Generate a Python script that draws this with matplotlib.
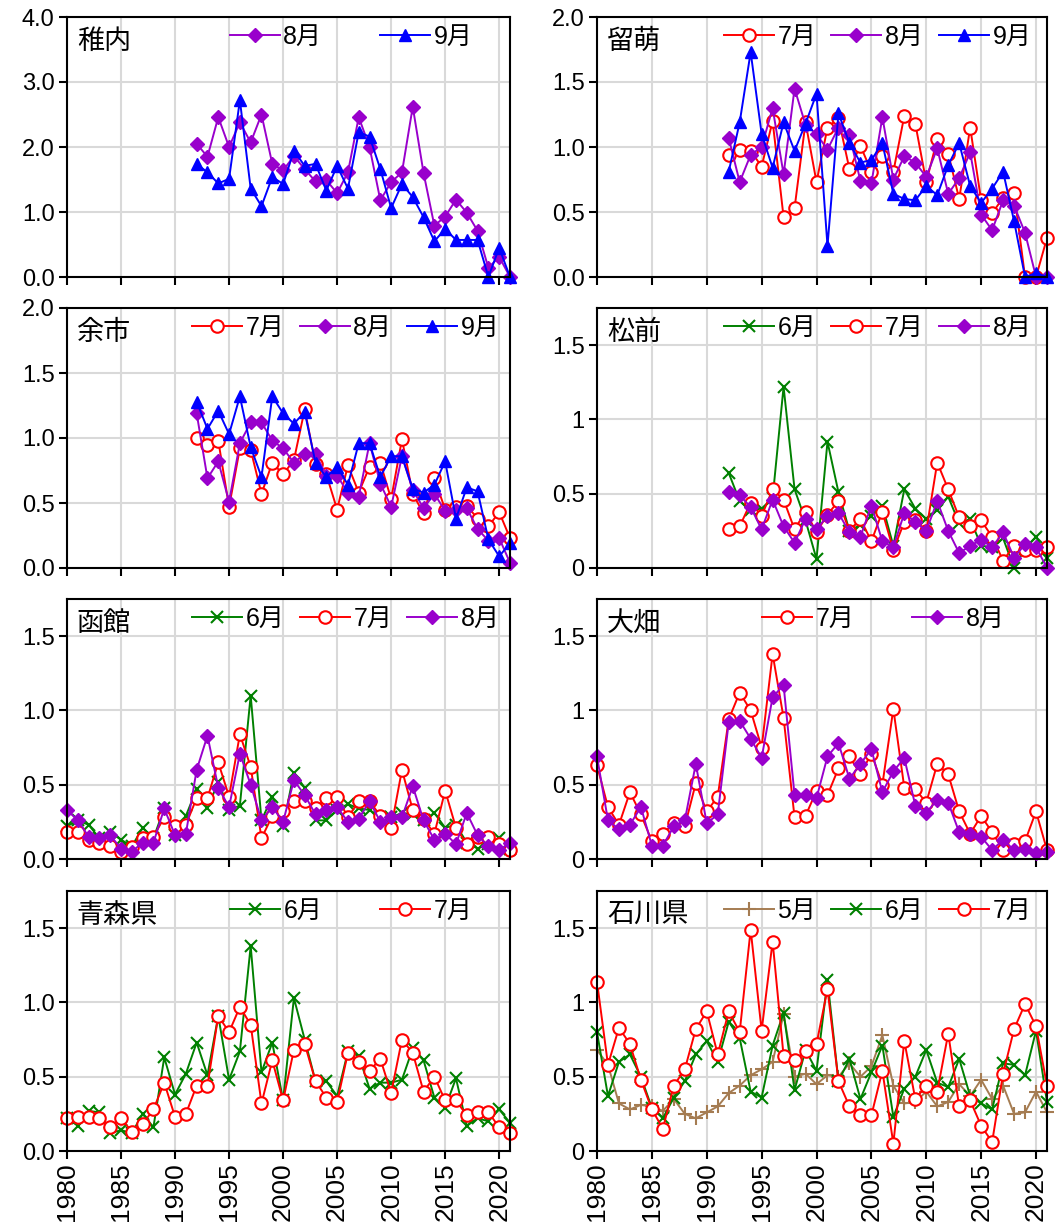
import matplotlib
matplotlib.use("Agg")
import matplotlib.pyplot as plt

plt.rcParams["font.family"] = ["Noto Sans CJK JP", "DejaVu Sans"]

# ---- data ----
years_1992 = list(range(1992, 2022))
years_1980 = list(range(1980, 2022))

wakkanai_aug = [2.05, 1.85, 2.46, 2.0, 2.38, 2.07, 2.5, 1.74, 1.64, 1.86, 1.66, 1.47, 1.49, 1.29, 1.61,
                2.46, 2.0, 1.18, 1.46, 1.61, 2.62, 1.6, 0.79, 0.93, 1.19, 0.99, 0.71, 0.14, 0.31, 0.0]
wakkanai_sep = [1.74, 1.61, 1.44, 1.51, 2.72, 1.36, 1.09, 1.54, 1.43, 1.94, 1.71, 1.74, 1.33, 1.71, 1.36,
                2.23, 2.16, 1.66, 1.06, 1.43, 1.23, 0.92, 0.55, 0.74, 0.57, 0.57, 0.57, 0.0, 0.45, 0.0]

rumoi_jul = [0.94, 0.98, 0.97, 0.85, 1.20, 0.46, 0.53, 1.19, 0.73, 1.15, 1.22, 0.83, 1.01, 0.81, 0.93,
             0.81, 1.24, 1.18, 0.73, 1.06, 0.95, 0.60, 1.15, 0.59, 0.49, 0.61, 0.65, 0.0, 0.0, 0.30]
rumoi_aug = [1.07, 0.73, 0.94, 1.0, 1.30, 0.79, 1.45, 1.17, 1.10, 0.98, 1.15, 1.09, 0.74, 0.72, 1.23,
             0.75, 0.93, 0.88, 0.77, 0.99, 0.64, 0.76, 0.96, 0.48, 0.36, 0.59, 0.55, 0.34, 0.0, 0.0]
rumoi_sep = [0.81, 1.19, 1.73, 1.10, 0.84, 1.19, 0.97, 1.18, 1.41, 0.24, 1.26, 1.03, 0.88, 0.90, 1.03,
             0.64, 0.60, 0.59, 0.70, 0.63, 0.86, 1.03, 0.70, 0.57, 0.68, 0.81, 0.43, 0.0, 0.03, 0.0]

yoichi_jul = [1.0, 0.95, 0.98, 0.47, 0.92, 0.91, 0.57, 0.81, 0.72, 0.83, 1.22, 0.80, 0.72, 0.45, 0.79,
              0.58, 0.78, 0.81, 0.53, 0.99, 0.57, 0.42, 0.69, 0.45, 0.47, 0.48, 0.38, 0.32, 0.43, 0.23]
yoichi_aug = [1.19, 0.69, 0.82, 0.51, 0.96, 1.12, 1.12, 0.98, 0.92, 0.81, 0.88, 0.88, 0.71, 0.71, 0.58,
              0.55, 0.96, 0.65, 0.47, 0.86, 0.60, 0.46, 0.57, 0.44, 0.45, 0.46, 0.30, 0.21, 0.23, 0.04]
yoichi_sep = [1.28, 1.07, 1.21, 1.03, 1.32, 0.93, 0.70, 1.32, 1.19, 1.11, 1.20, 0.81, 0.70, 0.78, 0.64,
              0.96, 0.96, 0.70, 0.86, 0.86, 0.61, 0.58, 0.64, 0.82, 0.38, 0.62, 0.59, 0.22, 0.09, 0.19]

matsumae_jun = [0.64, 0.45, 0.39, 0.40, 0.47, 1.22, 0.53, 0.32, 0.06, 0.85, 0.51, 0.25, 0.29, 0.35, 0.42,
                0.15, 0.53, 0.40, 0.33, 0.39, 0.48, 0.30, 0.33, 0.15, 0.14, 0.20, 0.0, 0.13, 0.21, 0.07]
matsumae_jul = [0.26, 0.28, 0.44, 0.35, 0.53, 0.46, 0.26, 0.38, 0.24, 0.36, 0.45, 0.25, 0.33, 0.18, 0.38,
                0.12, 0.31, 0.32, 0.25, 0.71, 0.53, 0.34, 0.28, 0.32, 0.21, 0.05, 0.15, 0.12, 0.12, 0.14]
matsumae_aug = [0.51, 0.49, 0.41, 0.26, 0.46, 0.28, 0.17, 0.33, 0.26, 0.35, 0.37, 0.24, 0.21, 0.42, 0.18,
                0.14, 0.37, 0.31, 0.25, 0.45, 0.25, 0.10, 0.15, 0.19, 0.14, 0.24, 0.07, 0.16, 0.14, 0.0]

hakodate_jun = [0.22, 0.26, 0.23, 0.14, 0.18, 0.13, 0.085, 0.21, 0.14, 0.34,
                0.16, 0.29, 0.47, 0.34, 0.52, 0.33, 0.36, 1.10, 0.26, 0.42,
                0.22, 0.58, 0.48, 0.26, 0.26, 0.33, 0.37, 0.34, 0.33, 0.28,
                0.28, 0.31, 0.30, 0.26, 0.31, 0.21, 0.23, 0.11, 0.07, 0.10,
                0.14, 0.07]
hakodate_jul = [0.18, 0.18, 0.13, 0.11, 0.09, 0.05, 0.08, 0.14, 0.15, 0.28,
                0.22, 0.23, 0.41, 0.41, 0.65, 0.42, 0.84, 0.62, 0.14, 0.29,
                0.32, 0.39, 0.39, 0.34, 0.41, 0.42, 0.28, 0.39, 0.39, 0.29,
                0.21, 0.60, 0.33, 0.27, 0.17, 0.46, 0.21, 0.10, 0.15, 0.15,
                0.10, 0.06]
hakodate_aug = [0.33, 0.26, 0.15, 0.14, 0.16, 0.07, 0.05, 0.11, 0.11, 0.34,
                0.16, 0.17, 0.60, 0.83, 0.48, 0.35, 0.71, 0.50, 0.26, 0.35,
                0.25, 0.53, 0.43, 0.30, 0.33, 0.35, 0.25, 0.27, 0.39, 0.25,
                0.28, 0.28, 0.49, 0.26, 0.13, 0.17, 0.10, 0.31, 0.16, 0.085,
                0.06, 0.11]

ohata_jul = [0.63, 0.35, 0.23, 0.45, 0.30, 0.12, 0.17, 0.24, 0.22, 0.51,
             0.32, 0.42, 0.94, 1.12, 1.0, 0.75, 1.38, 0.95, 0.28, 0.29,
             0.46, 0.43, 0.61, 0.69, 0.57, 0.71, 0.50, 1.01, 0.48, 0.47,
             0.38, 0.64, 0.57, 0.32, 0.17, 0.29, 0.18, 0.06, 0.10, 0.12,
             0.32, 0.06]
ohata_aug = [0.69, 0.26, 0.20, 0.23, 0.35, 0.09, 0.09, 0.22, 0.26, 0.64,
             0.24, 0.30, 0.92, 0.93, 0.81, 0.68, 1.09, 1.17, 0.43, 0.43,
             0.41, 0.69, 0.78, 0.54, 0.64, 0.74, 0.45, 0.59, 0.68, 0.36,
             0.31, 0.40, 0.38, 0.18, 0.17, 0.15, 0.06, 0.13, 0.06, 0.07,
             0.04, 0.05]

aomori_jun = [0.22, 0.17, 0.27, 0.26, 0.12, 0.14, 0.12, 0.25, 0.16, 0.63,
              0.38, 0.52, 0.73, 0.51, 0.91, 0.48, 0.67, 1.38, 0.53, 0.73,
              0.34, 1.03, 0.75, 0.47, 0.47, 0.37, 0.67, 0.64, 0.42, 0.46,
              0.46, 0.48, 0.69, 0.61, 0.36, 0.29, 0.49, 0.17, 0.22, 0.20,
              0.28, 0.19]
aomori_jul = [0.22, 0.23, 0.23, 0.22, 0.16, 0.22, 0.13, 0.18, 0.28, 0.46,
              0.23, 0.25, 0.44, 0.44, 0.91, 0.80, 0.97, 0.85, 0.32, 0.61,
              0.34, 0.68, 0.72, 0.47, 0.36, 0.33, 0.66, 0.60, 0.54, 0.62,
              0.39, 0.75, 0.66, 0.40, 0.50, 0.34, 0.34, 0.24, 0.26, 0.26,
              0.16, 0.12]

ishikawa_may = [0.68, 0.58, 0.32, 0.28, 0.31, 0.30, 0.27, 0.35, 0.25, 0.22,
                0.26, 0.30, 0.39, 0.44, 0.51, 0.55, 0.60, 0.92, 0.50, 0.52,
                0.45, 0.51, 0.50, 0.59, 0.50, 0.57, 0.78, 0.44, 0.32, 0.33,
                0.40, 0.30, 0.33, 0.45, 0.37, 0.48, 0.35, 0.44, 0.25, 0.26,
                0.40, 0.26]
ishikawa_jun = [0.80, 0.37, 0.60, 0.65, 0.50, 0.29, 0.22, 0.36, 0.47, 0.65,
                0.74, 0.60, 0.87, 0.76, 0.40, 0.36, 0.71, 0.93, 0.41, 0.68,
                0.54, 1.15, 0.47, 0.62, 0.35, 0.53, 0.71, 0.23, 0.42, 0.50,
                0.68, 0.46, 0.43, 0.62, 0.37, 0.32, 0.28, 0.59, 0.58, 0.51,
                0.81, 0.33]
ishikawa_jul = [1.14, 0.58, 0.83, 0.72, 0.48, 0.28, 0.15, 0.44, 0.55, 0.82,
                0.94, 0.65, 0.94, 0.80, 1.49, 0.81, 1.41, 0.64, 0.61, 0.67,
                0.72, 1.09, 0.47, 0.30, 0.24, 0.24, 0.54, 0.05, 0.74, 0.35,
                0.44, 0.40, 0.79, 0.30, 0.34, 0.17, 0.06, 0.52, 0.82, 0.99,
                0.84, 0.44]

# y tick values / labels used by the panels
ticks_4 = ([0, 1, 2, 3, 4], ["0.0", "1.0", "2.0", "3.0", "4.0"])
ticks_2 = ([0, 0.5, 1, 1.5, 2], ["0.0", "0.5", "1.0", "1.5", "2.0"])
ticks_g = ([0, 0.5, 1, 1.5], ["0", "0.5", "1", "1.5"])
ticks_f = ([0, 0.5, 1, 1.5], ["0.0", "0.5", "1.0", "1.5"])

# panel: (name, years, [(label, values)], ymax, yticks)
panels = [
    ("稚内", years_1992, [("8月", wakkanai_aug), ("9月", wakkanai_sep)], 4.0, ticks_4),
    ("留萌", years_1992, [("7月", rumoi_jul), ("8月", rumoi_aug), ("9月", rumoi_sep)], 2.0, ticks_2),
    ("余市", years_1992, [("7月", yoichi_jul), ("8月", yoichi_aug), ("9月", yoichi_sep)], 2.0, ticks_2),
    ("松前", years_1992, [("6月", matsumae_jun), ("7月", matsumae_jul), ("8月", matsumae_aug)], 1.75, ticks_g),
    ("函館", years_1980, [("6月", hakodate_jun), ("7月", hakodate_jul), ("8月", hakodate_aug)], 1.75, ticks_f),
    ("大畑", years_1980, [("7月", ohata_jul), ("8月", ohata_aug)], 1.75, ticks_g),
    ("青森県", years_1980, [("6月", aomori_jun), ("7月", aomori_jul)], 1.75, ticks_f),
    ("石川県", years_1980, [("5月", ishikawa_may), ("6月", ishikawa_jun), ("7月", ishikawa_jul)], 1.75, ticks_g),
]

STYLE = {
    "5月": dict(color="#A57C52", marker="+", markersize=10, markeredgewidth=1.5),
    "6月": dict(color="#008000", marker="x", markersize=8, markeredgewidth=1.5),
    "7月": dict(color="#FF0000", marker="o", markersize=9, markerfacecolor="white", markeredgewidth=1.5),
    "8月": dict(color="#9900CC", marker="D", markersize=7),
    "9月": dict(color="#0000FF", marker="^", markersize=9),
}

W, H = 1057, 1225
col_left = [67, 597]
col_width = [443, 450]
row_top = [17, 308, 599, 891]
ax_height = 260

YTICK_FONT = ["Liberation Sans", "DejaVu Sans"]
XTICK_FONT = ["Liberation Sans", "DejaVu Sans"]
LEGEND_FONT = ["Liberation Sans", "Noto Sans CJK JP"]


def main() -> None:
    fig = plt.figure(figsize=(W / 100, H / 100), dpi=100)

    for i, (name, years, series, ymax, (yt, ytl)) in enumerate(panels):
        row, col = divmod(i, 2)
        rect = [col_left[col] / W, 1 - (row_top[row] + ax_height) / H,
                col_width[col] / W, ax_height / H]
        ax = fig.add_axes(rect)

        for label, values in series:
            ax.plot(years, values, label=label, linewidth=1.4, clip_on=False, **STYLE[label])

        ax.set_xlim(1980, 2021)
        ax.set_ylim(0, ymax)
        ax.set_xticks(range(1980, 2021, 5))
        ax.set_yticks(yt)
        ax.set_yticklabels(ytl, fontfamily=YTICK_FONT, fontsize=17)
        ax.grid(True, color="#D9D9D9", linewidth=1.5)
        ax.set_axisbelow(True)
        for sp in ax.spines.values():
            sp.set_linewidth(1.5)
            sp.set_color("black")
        ax.tick_params(direction="out", length=6, width=1.5, pad=3)
        if row == 3:
            ax.tick_params(axis="x", pad=2)
            ax.set_xticklabels([str(y) for y in range(1980, 2021, 5)], rotation=90,
                               fontfamily=XTICK_FONT, fontsize=19)
        else:
            ax.tick_params(axis="x", labelbottom=False)

        ax.text(0.022, 0.905, name, transform=ax.transAxes, fontsize=19.5, va="center", ha="left")

        if len(series) == 3:
            x0, colsp = 0.265, 0.6
        else:
            x0, colsp = 0.35, 2.3
        ax.legend(loc="upper left", bbox_to_anchor=(x0, 1.0), ncol=len(series), frameon=False,
                  prop={"family": LEGEND_FONT, "size": 18}, handlelength=2.0,
                  handletextpad=0.15, columnspacing=colsp, borderaxespad=0.1, borderpad=0.2)

    fig.savefig("out.png", dpi=100)
    plt.close()


if __name__ == "__main__":
    main()
